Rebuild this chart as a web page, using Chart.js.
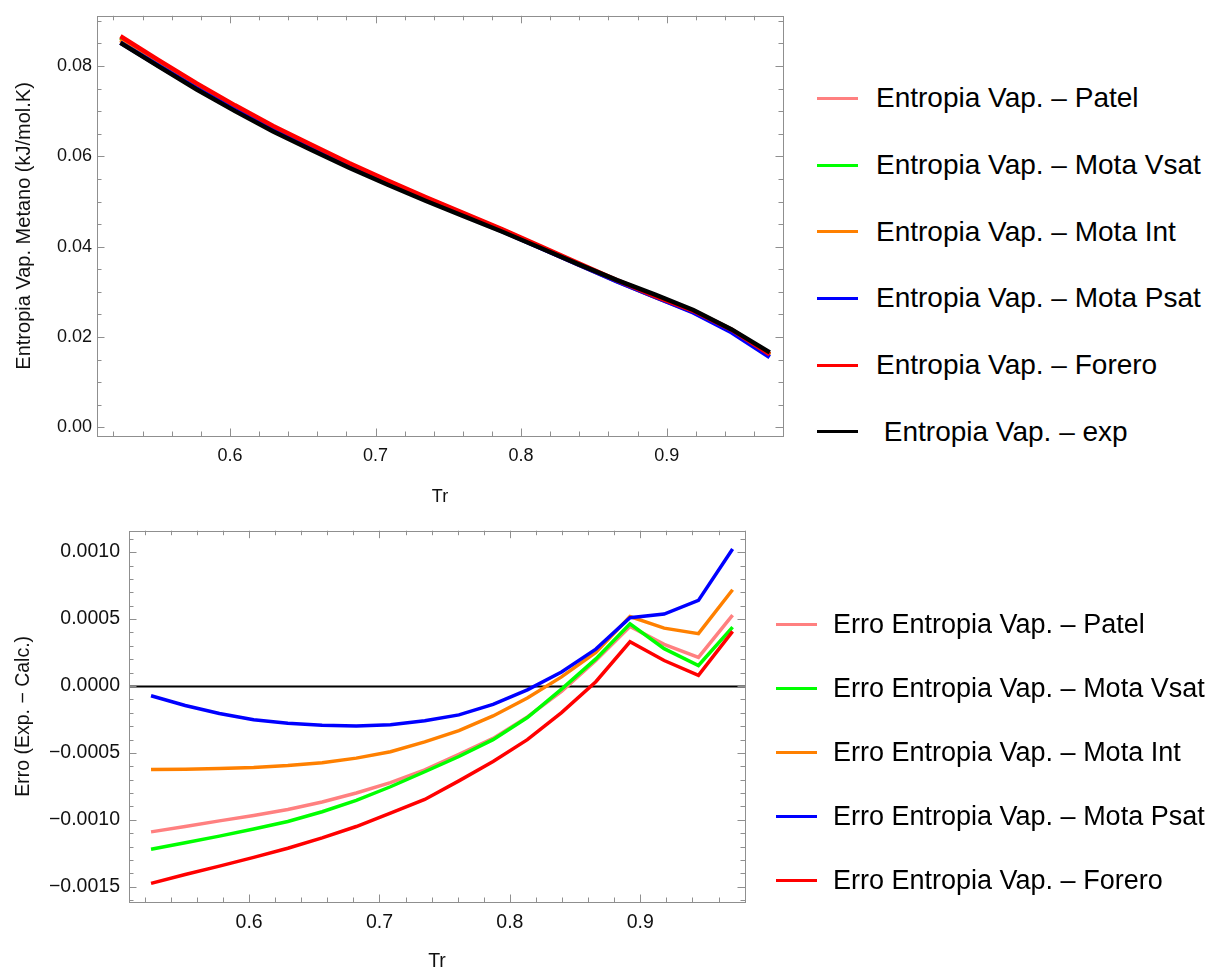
<!DOCTYPE html>
<html>
<head>
<meta charset="utf-8">
<script src="https://cdn.jsdelivr.net/npm/chart.js@4.4.1/dist/chart.umd.min.js"></script>
<style>
    body { margin: 0; background: #fff; font-family: "Liberation Sans", Arial, sans-serif; }
    #page { position: relative; width: 1225px; height: 974px; }
    .box { position: absolute; left: 0; }
    .leg { position: absolute; display: flex; align-items: center; white-space: pre; color: #000; }
    .leg span.swatch { display: inline-block; height: 3px; }
</style>
</head>
<body>
<div id="page">
    <div class="box" style="top:0;"><canvas id="topChart" width="790" height="510"></canvas></div>
    <div class="box" style="top:510px;"><canvas id="errChart" width="790" height="464"></canvas></div>
    <div id="legend_top"></div>
    <div id="legend_err"></div>
</div>
<script>
"use strict"

// reduced temperature of the points (T = 100..185 K, methane)
var tr = [0.5248, 0.5510, 0.5772, 0.6035, 0.6297, 0.6560, 0.6822, 0.7084, 0.7347,
          0.7609, 0.7871, 0.8134, 0.8396, 0.8659, 0.8921, 0.9183, 0.9446, 0.9708];

// entropia de vaporizacao (kJ/mol.K)
var s_patel  = [0.08619, 0.08095, 0.07581, 0.07097, 0.06642, 0.06227, 0.05820, 0.05442, 0.05073,
                0.04721, 0.04369, 0.03993, 0.03614, 0.03241, 0.02896, 0.02569, 0.02149, 0.01607];
var s_vsat   = [0.08632, 0.08107, 0.07592, 0.07107, 0.06651, 0.06234, 0.05826, 0.05445, 0.05074,
                0.04723, 0.04370, 0.03994, 0.03612, 0.03240, 0.02894, 0.02572, 0.02155, 0.01616];
var s_int    = [0.08573, 0.08052, 0.07542, 0.07061, 0.06610, 0.06197, 0.05794, 0.05419, 0.05052,
                0.04703, 0.04352, 0.03979, 0.03603, 0.03235, 0.02888, 0.02557, 0.02131, 0.01588];
var s_psat   = [0.08517, 0.08005, 0.07501, 0.07025, 0.06578, 0.06169, 0.05770, 0.05399, 0.05036,
                0.04692, 0.04344, 0.03973, 0.03600, 0.03233, 0.02889, 0.02546, 0.02106, 0.01558];
var s_forero = [0.08658, 0.08131, 0.07615, 0.07128, 0.06671, 0.06254, 0.05845, 0.05465, 0.05095,
                0.04741, 0.04386, 0.04010, 0.03630, 0.03257, 0.02907, 0.02581, 0.02162, 0.01619];
var s_exp    = [0.0851, 0.0799, 0.0748, 0.0700, 0.0655, 0.0614, 0.0574, 0.0537, 0.0501,
                0.0467, 0.0433, 0.0397, 0.0361, 0.0326, 0.0294, 0.0260, 0.0217, 0.0166];

// erro (exp - calc)
var e_patel  = [-0.00109, -0.00105, -0.001008, -0.000967, -0.000923, -0.000867, -0.00080, -0.000722, -0.000627,
                -0.000510, -0.000392, -0.000231, -0.000041, 0.000190, 0.000445, 0.000311, 0.000214, 0.000530];
var e_vsat   = [-0.00122, -0.001171, -0.001122, -0.001069, -0.001013, -0.00094, -0.000855, -0.000753, -0.000641,
                -0.000527, -0.000401, -0.000236, -0.000024, 0.000202, 0.000464, 0.000279, 0.000153, 0.000440];
var e_int    = [-0.000625, -0.000622, -0.000617, -0.00061, -0.000595, -0.000573, -0.000539, -0.000491, -0.000418,
                -0.000333, -0.000224, -0.00009, 0.000068, 0.00025, 0.000518, 0.000432, 0.000391, 0.000719];
var e_psat   = [-0.000073, -0.000146, -0.000206, -0.000253, -0.000279, -0.000294, -0.000299, -0.000289, -0.00026,
                -0.000216, -0.000138, -0.000029, 0.000104, 0.000275, 0.00051, 0.000537, 0.000639, 0.001023];
var e_forero = [-0.001475, -0.001409, -0.001346, -0.001281, -0.001212, -0.001135, -0.00105, -0.00095, -0.000848,
                -0.000709, -0.000564, -0.000401, -0.000199, 0.000032, 0.00033, 0.00019, 0.00008, 0.000408];

// ticks
var x_ticks = [0.6, 0.7, 0.8, 0.9];
var x_labels = ["0.6", "0.7", "0.8", "0.9"];
var top_y_ticks = [0, 0.02, 0.04, 0.06, 0.08];
var top_y_labels = ["0.00", "0.02", "0.04", "0.06", "0.08"];
var err_y_ticks = [-0.0015, -0.001, -0.0005, 0, 0.0005, 0.001];
var err_y_labels = ["\u22120.0015", "\u22120.0010", "\u22120.0005", "0.0000", "0.0005", "0.0010"];

var top_names = ["Entropia Vap. \u2013 Patel", "Entropia Vap. \u2013 Mota Vsat", "Entropia Vap. \u2013 Mota Int",
                 "Entropia Vap. \u2013 Mota Psat", "Entropia Vap. \u2013 Forero", " Entropia Vap. \u2013 exp"];
var err_names = ["Erro Entropia Vap. \u2013 Patel", "Erro Entropia Vap. \u2013 Mota Vsat", "Erro Entropia Vap. \u2013 Mota Int",
                 "Erro Entropia Vap. \u2013 Mota Psat", "Erro Entropia Vap. \u2013 Forero"];
var colors = ["#ff8080", "#00ff00", "#ff8000", "#0000ff", "#ff0000", "#000000"];

var FONT = "'Liberation Sans', Arial, sans-serif";

function pts(arr){
    var out = [];
    for(var i=0;i<tr.length;i++){
        out.push({x: tr[i], y: arr[i]});
    }
    return out;
}

function make_sets(list, names, width){
    var sets = [];
    for(var i=0;i<list.length;i++){
        sets.push({
            label: names[i],
            data: pts(list[i]),
            borderColor: colors[i],
            borderWidth: width,
            pointRadius: 0,
            tension: 0,
            fill: false,
            order: list.length - i   // later series on top, like mathematica
        });
    }
    return sets;
}

// frame with ticks on the 4 sides, plus optional zero axis
var frame_plugin = {
    id: "frame_ticks",
    beforeDatasetsDraw: function(chart, args, o){
        if(!o.zero) return;
        var a = chart.chartArea, ctx = chart.ctx;
        var y0 = Math.round(chart.scales.y.getPixelForValue(0)) + 0.5;
        ctx.save();
        ctx.strokeStyle = "#000";
        ctx.lineWidth = 2;
        ctx.beginPath();
        ctx.moveTo(a.left, y0);
        ctx.lineTo(a.right, y0);
        ctx.stroke();
        ctx.restore();
    },
    afterDraw: function(chart, args, o){
        var a = chart.chartArea, ctx = chart.ctx;
        var xs = chart.scales.x, ys = chart.scales.y;
        ctx.save();
        ctx.strokeStyle = "#8f8f8f";
        ctx.lineWidth = 1;
        ctx.strokeRect(Math.round(a.left) + 0.5, Math.round(a.top) + 0.5,
                       Math.round(a.right - a.left), Math.round(a.bottom - a.top));
        ctx.beginPath();
        var k, v, p, len;
        for(k = Math.ceil(xs.min / o.xMinor - 1e-9); k * o.xMinor <= xs.max; k++){
            v = k * o.xMinor;
            len = Math.abs(v / o.xMajor - Math.round(v / o.xMajor)) < 1e-6 ? 7.5 : 4.5;
            p = Math.round(xs.getPixelForValue(v)) + 0.5;
            ctx.moveTo(p, a.bottom); ctx.lineTo(p, a.bottom - len);
            ctx.moveTo(p, a.top); ctx.lineTo(p, a.top + len);
        }
        for(k = Math.ceil(ys.min / o.yMinor - 1e-9); k * o.yMinor <= ys.max; k++){
            v = k * o.yMinor;
            len = Math.abs(v / o.yMajor - Math.round(v / o.yMajor)) < 1e-6 ? 7.5 : 4.5;
            p = Math.round(ys.getPixelForValue(v)) + 0.5;
            ctx.moveTo(a.left, p); ctx.lineTo(a.left + len, p);
            ctx.moveTo(a.right, p); ctx.lineTo(a.right - len, p);
        }
        ctx.stroke();
        ctx.restore();
    }
};

function scale_opts(c){
    return {
        x: {
            type: "linear", min: c.xmin, max: c.xmax,
            grid: {display: false, drawTicks: false}, border: {display: false},
            afterBuildTicks: function(s){ s.ticks = x_ticks.map(function(v){ return {value: v}; }); },
            afterFit: function(s){ s.height = c.xh; },
            ticks: {
                padding: 9, color: "#111", maxRotation: 0,
                font: {family: FONT, size: c.tickSize},
                callback: function(v, i){ return x_labels[i]; }
            },
            title: {display: true, text: "Tr", color: "#111",
                    font: {family: FONT, size: c.titleSize}, padding: {top: 0, bottom: c.xtPad}}
        },
        y: {
            type: "linear", min: c.ymin, max: c.ymax,
            grid: {display: false, drawTicks: false}, border: {display: false},
            afterBuildTicks: function(s){ s.ticks = c.yticks.map(function(v){ return {value: v}; }); },
            afterFit: function(s){ s.width = c.yw; },
            ticks: {
                padding: c.ytPad, color: "#111",
                font: {family: FONT, size: c.tickSize},
                callback: function(v, i){ return c.ylabels[i]; }
            },
            title: {display: true, text: c.ytitle, color: "#111",
                    font: {family: FONT, size: c.ytitleSize}, padding: {top: 12, bottom: 0}}
        }
    };
}

function draw_top(){
    var ctx = document.getElementById("topChart").getContext("2d");
    new Chart(ctx, {
        type: "line",
        data: {datasets: make_sets([s_patel, s_vsat, s_int, s_psat, s_forero, s_exp], top_names, 4.5)},
        options: {
            responsive: false, animation: false, devicePixelRatio: 1,
            layout: {padding: {left: 0, right: 7, top: 12, bottom: 0}},
            plugins: {
                legend: {display: false}, tooltip: {enabled: false},
                frame_ticks: {xMinor: 0.02, xMajor: 0.1, yMinor: 0.005, yMajor: 0.02, zero: false}
            },
            scales: scale_opts({
                xmin: 0.5087, xmax: 0.9799, ymin: -0.0019, ymax: 0.0911,
                yticks: top_y_ticks, ylabels: top_y_labels,
                ytitle: "Entropia Vap. Metano (kJ/mol.K)",
                xh: 74, yw: 97, tickSize: 18, titleSize: 18, ytitleSize: 20, xtPad: 2, ytPad: 5
            })
        },
        plugins: [frame_plugin]
    });
}

function draw_err(){
    var ctx = document.getElementById("errChart").getContext("2d");
    new Chart(ctx, {
        type: "line",
        data: {datasets: make_sets([e_patel, e_vsat, e_int, e_psat, e_forero], err_names, 3.5)},
        options: {
            responsive: false, animation: false, devicePixelRatio: 1,
            layout: {padding: {left: 0, right: 45, top: 12, bottom: 0}},
            plugins: {
                legend: {display: false}, tooltip: {enabled: false},
                frame_ticks: {xMinor: 0.02, xMajor: 0.1, yMinor: 0.0001, yMajor: 0.0005, zero: true}
            },
            scales: scale_opts({
                xmin: 0.5079, xmax: 0.9803, ymin: -0.001614, ymax: 0.00116,
                yticks: err_y_ticks, ylabels: err_y_labels,
                ytitle: "Erro (Exp. \u2212 Calc.)",
                xh: 72, yw: 129, tickSize: 19.5, titleSize: 19.5, ytitleSize: 19.5, xtPad: 1, ytPad: 9
            })
        },
        plugins: [frame_plugin]
    });
}

function draw_legend(id, names, x_line, x_text, y0, step, size){
    var box = document.getElementById(id);
    var html = [];
    for(var i=0;i<names.length;i++){
        var y = y0 + i * step;
        html.push('<div class="leg" style="left:' + x_line + 'px;top:' + (y - size / 2) + 'px;height:' + size +
                  'px;font-size:' + size + 'px;line-height:' + size + 'px;">' +
                  '<span class="swatch" style="width:41px;background:' + colors[i] + ';margin-right:' + (x_text - x_line - 41) + 'px"></span>' +
                  '<span>' + names[i] + '</span></div>');
    }
    box.innerHTML = html.join("");
}

draw_top();
draw_err();
draw_legend("legend_top", top_names, 817, 876, 98.3, 66.7, 28);
draw_legend("legend_err", err_names, 776, 833, 624.3, 64, 27);
</script>
</body>
</html>
